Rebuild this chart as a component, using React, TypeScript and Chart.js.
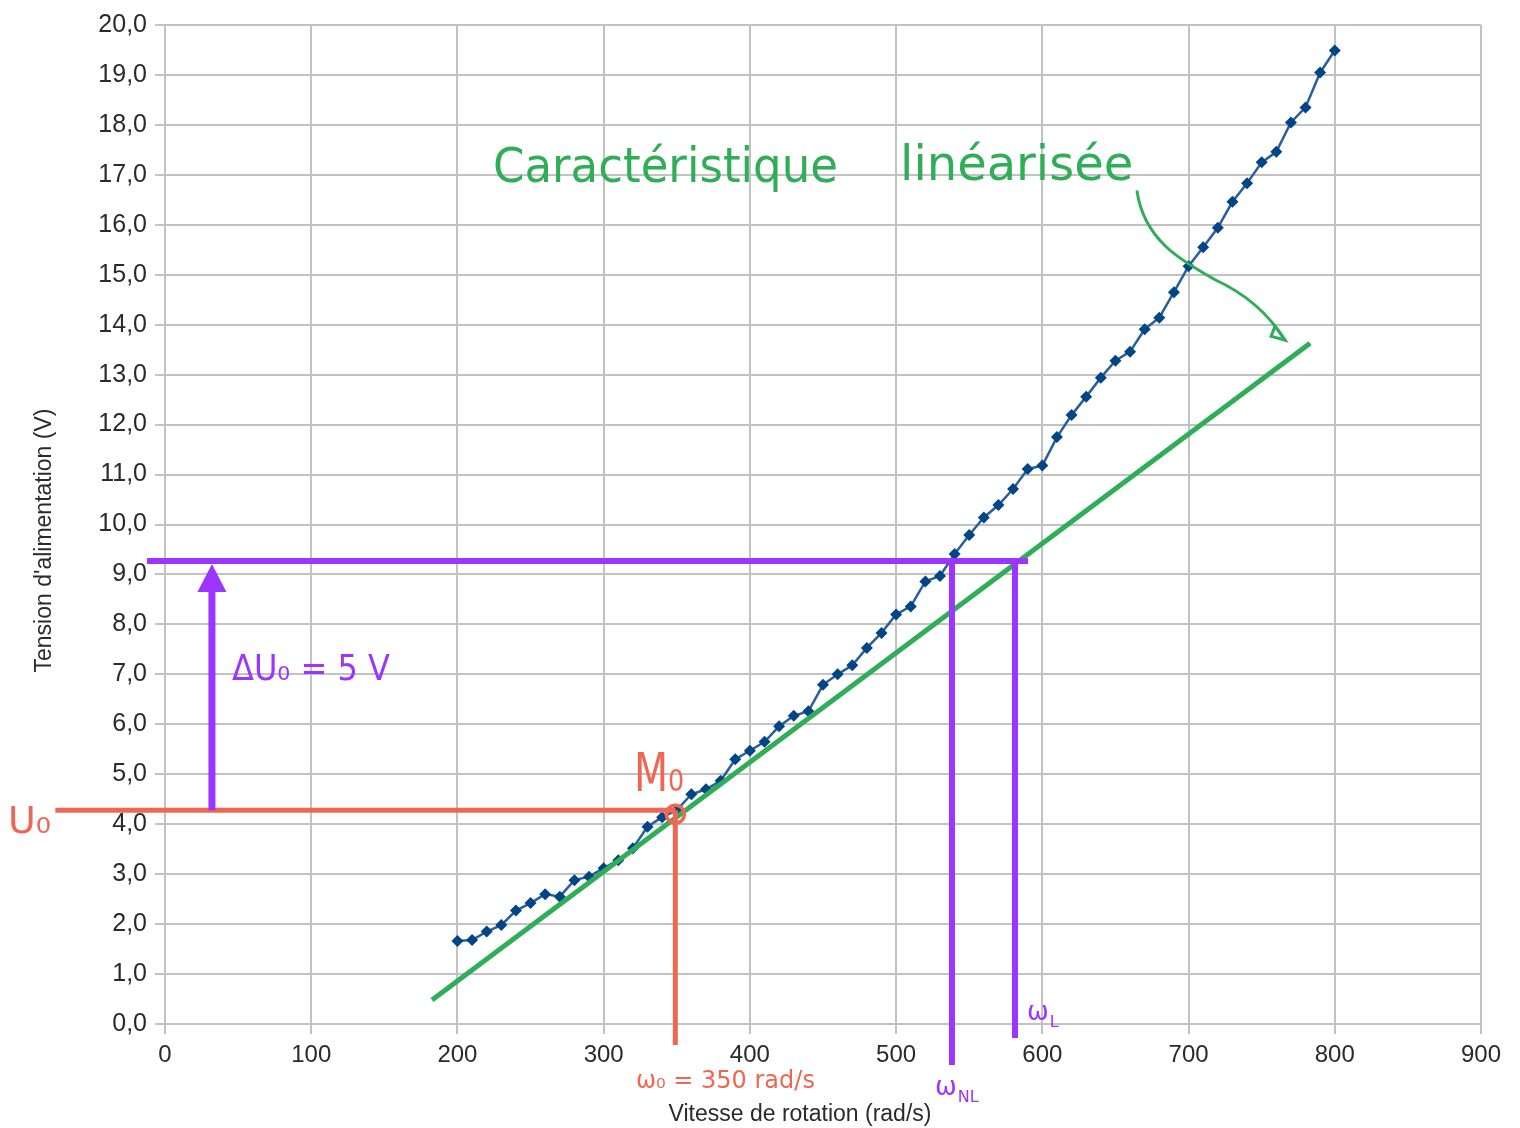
import React, { useEffect, useRef } from 'react';
import { Chart, registerables } from 'chart.js';

Chart.register(...registerables);

// ---- Data ----
const speeds = [
  200, 210, 220, 230, 240, 250, 260, 270, 280, 290,
  300, 310, 320, 330, 340, 350, 360, 370, 380, 390,
  400, 410, 420, 430, 440, 450, 460, 470, 480, 490,
  500, 510, 520, 530, 540, 550, 560, 570, 580, 590,
  600, 610, 620, 630, 640, 650, 660, 670, 680, 690,
  700, 710, 720, 730, 740, 750, 760, 770, 780, 790, 800,
];
const voltages = [
  1.66, 1.68, 1.85, 1.98, 2.27, 2.42, 2.60, 2.55, 2.88, 2.95,
  3.12, 3.28, 3.52, 3.95, 4.14, 4.28, 4.60, 4.70, 4.87, 5.30,
  5.47, 5.65, 5.96, 6.17, 6.26, 6.79, 7.00, 7.18, 7.53, 7.83,
  8.20, 8.36, 8.86, 8.97, 9.41, 9.79, 10.14, 10.39, 10.71, 11.11,
  11.18, 11.75, 12.19, 12.56, 12.94, 13.28, 13.46, 13.91, 14.14, 14.65,
  15.17, 15.55, 15.94, 16.46, 16.83, 17.25, 17.46, 18.05, 18.35, 19.05, 19.49,
];
const xTickLabels = ['0', '100', '200', '300', '400', '500', '600', '700', '800', '900'];
const yTickLabels = [
  '0,0', '1,0', '2,0', '3,0', '4,0', '5,0', '6,0', '7,0', '8,0', '9,0', '10,0',
  '11,0', '12,0', '13,0', '14,0', '15,0', '16,0', '17,0', '18,0', '19,0', '20,0',
];
const xTitle = 'Vitesse de rotation (rad/s)';
const yTitle = "Tension d'alimentation (V)";

// Linearised characteristic (hand-drawn straight line)
const fitSpeeds = [182.6, 783.1];
const fitVoltages = [0.48, 13.63];

// Operating point and construction lines
const omega0 = 349;
const u0 = 4.28;
const uTarget = 9.27;
const omegaNL = 538.2;
const omegaL = 581.3;
const deltaArrowX = 32.1;
const deltaArrowTip = 9.21;
const deltaArrowBase = 8.65;

// Extents of construction lines (beyond axes)
const redHStart = -75;
const redVEnd = -0.42;
const purpleHStart = -12.3;
const purpleHEnd = 590.2;
const purpleNLEnd = -0.82;
const purpleLEnd = -0.28;

// Hand-drawn curved arrow path (data units)
const curveStart = { x: 664.8, y: 16.66 };
const curveC1 = { x: 670.2, y: 15.6 };
const curveC2 = { x: 701.0, y: 15.2 };
const curveMid = { x: 718.1, y: 14.9 };
const curveC3 = { x: 748.9, y: 14.49 };
const curveEnd = { x: 766.0, y: 13.69 };

// ---- Styles ----
const BLUE = '#004586';
const GREEN = '#2fae57';
const RED = '#ef6753';
const PURPLE = '#9b35ff';
const GRID = '#c2c2c2';
const TEXT = '#2a2a2a';
const AXIS_FONT = '"Liberation Sans", Arial, sans-serif';
const HAND_FONT = '"DejaVu Sans", sans-serif';

const notes = [
  { text: 'Caractéristique', x: 224.3, y: 16.86, size: 48, width: 345, color: GREEN },
  { text: 'linéarisée', x: 502.7, y: 16.9, size: 48, width: 245, color: GREEN },
  { text: 'ΔU₀ = 5 V', x: 45.8, y: 6.89, size: 36, width: 158, color: PURPLE },
  { text: 'U₀', x: -107.4, y: 3.82, size: 38, width: 47, color: RED },
  { text: 'M₀', x: 320.7, y: 4.66, size: 54, width: 50, color: RED },
  { text: 'ω₀ = 350 rad/s', x: 322.1, y: -1.28, size: 24, width: 186, color: RED },
  { text: 'ω', sub: 'NL', x: 526.6, y: -1.42, size: 26, color: PURPLE },
  { text: 'ω', sub: 'L', x: 589.5, y: 0.08, size: 26, color: PURPLE },
];

const annotationPlugin = {
  id: 'handAnnotations',
  afterDatasetsDraw(chart: any) {
    const { ctx, scales, chartArea } = chart;
    const px = (v: number) => scales.x.getPixelForValue(v);
    const py = (v: number) => scales.y.getPixelForValue(v);
    ctx.save();

    // Axis titles
    ctx.fillStyle = TEXT;
    ctx.font = `23px ${AXIS_FONT}`;
    ctx.textAlign = 'center';
    ctx.textBaseline = 'middle';
    ctx.fillText(xTitle, (chartArea.left + chartArea.right) / 2 - 23, chartArea.bottom + 91);
    ctx.save();
    ctx.translate(chartArea.left - 120, (chartArea.top + chartArea.bottom) / 2 + 16);
    ctx.rotate(-Math.PI / 2);
    ctx.fillText(yTitle, 0, 0);
    ctx.restore();

    // Arrow head of ΔU arrow
    ctx.fillStyle = PURPLE;
    ctx.beginPath();
    ctx.moveTo(px(deltaArrowX), py(deltaArrowTip));
    ctx.lineTo(px(deltaArrowX) - 14.5, py(deltaArrowBase));
    ctx.lineTo(px(deltaArrowX) + 14.5, py(deltaArrowBase));
    ctx.closePath();
    ctx.fill();

    // Circle at operating point
    ctx.strokeStyle = RED;
    ctx.lineWidth = 3.5;
    ctx.beginPath();
    ctx.arc(px(omega0), py(u0 - 0.08), 9, 0, Math.PI * 2);
    ctx.stroke();

    // Green curved arrow
    ctx.strokeStyle = GREEN;
    ctx.lineWidth = 3;
    ctx.lineCap = 'round';
    ctx.beginPath();
    ctx.moveTo(px(curveStart.x), py(curveStart.y));
    ctx.bezierCurveTo(px(curveC1.x), py(curveC1.y), px(curveC2.x), py(curveC2.y), px(curveMid.x), py(curveMid.y));
    ctx.quadraticCurveTo(px(curveC3.x), py(curveC3.y), px(curveEnd.x), py(curveEnd.y));
    ctx.stroke();
    const ex = px(curveEnd.x);
    const ey = py(curveEnd.y);
    ctx.beginPath();
    ctx.moveTo(ex - 10, ey - 14);
    ctx.lineTo(ex, ey);
    ctx.lineTo(ex - 14, ey - 4);
    ctx.closePath();
    ctx.stroke();

    // Hand-written notes
    ctx.textAlign = 'left';
    ctx.textBaseline = 'alphabetic';
    for (const n of notes) {
      ctx.fillStyle = n.color;
      ctx.font = `${n.size}px ${HAND_FONT}`;
      const x0 = px(n.x);
      const y0 = py(n.y);
      if (n.width) ctx.fillText(n.text, x0, y0, n.width);
      else ctx.fillText(n.text, x0, y0);
      if (n.sub) {
        const w = ctx.measureText(n.text).width;
        ctx.font = `${Math.round(n.size * 0.6)}px ${HAND_FONT}`;
        ctx.fillText(n.sub, x0 + w + 1, y0 + 7);
      }
    }
    ctx.restore();
  },
};

function lineDataset(xs: number[], ys: number[], color: string, width: number, order: number) {
  return {
    data: xs.map((x, i) => ({ x, y: ys[i] })),
    showLine: true,
    borderColor: color,
    backgroundColor: color,
    borderWidth: width,
    pointRadius: 0,
    pointHoverRadius: 0,
    clip: false as const,
    order,
  };
}

export default function App() {
  const canvasRef = useRef<HTMLCanvasElement | null>(null);

  useEffect(() => {
    if (!canvasRef.current) return;
    const chart = new Chart(canvasRef.current, {
      type: 'scatter',
      data: {
        datasets: [
          lineDataset([purpleHStart, purpleHEnd], [uTarget, uTarget], PURPLE, 6, 0),
          lineDataset([omegaNL, omegaNL], [uTarget, purpleNLEnd], PURPLE, 6, 0),
          lineDataset([omegaL, omegaL], [uTarget, purpleLEnd], PURPLE, 6, 0),
          lineDataset([deltaArrowX, deltaArrowX], [u0, deltaArrowBase + 0.05], PURPLE, 7, 0),
          lineDataset([redHStart, omega0], [u0, u0], RED, 5, 1),
          lineDataset([omega0, omega0], [u0, redVEnd], RED, 5, 1),
          lineDataset(fitSpeeds, fitVoltages, GREEN, 5, 2),
          {
            data: speeds.map((s, i) => ({ x: s, y: voltages[i] })),
            showLine: true,
            borderColor: '#2a5f99',
            backgroundColor: BLUE,
            borderWidth: 2.5,
            pointStyle: 'rectRot',
            pointRadius: 6,
            pointHoverRadius: 6,
            pointBorderWidth: 0,
            order: 3,
          },
        ],
      },
      options: {
        animation: false,
        responsive: true,
        maintainAspectRatio: false,
        events: [],
        layout: { padding: { left: 0, right: 39, top: 25, bottom: 0 } },
        plugins: {
          legend: { display: false },
          tooltip: { enabled: false },
        },
        scales: {
          x: {
            type: 'linear',
            min: 0,
            max: 900,
            ticks: {
              stepSize: 100,
              autoSkip: false,
              maxRotation: 0,
              padding: 7,
              color: TEXT,
              font: { family: AXIS_FONT, size: 24 },
              callback: (_v: any, i: number) => xTickLabels[i],
            },
            grid: { color: GRID, lineWidth: 2, tickLength: 10 },
            border: { color: GRID, width: 2 },
            title: { display: false },
            afterFit: (s: any) => {
              s.height = 104;
            },
          },
          y: {
            type: 'linear',
            min: 0,
            max: 20,
            ticks: {
              stepSize: 1,
              autoSkip: false,
              padding: 8,
              color: TEXT,
              font: { family: AXIS_FONT, size: 25 },
              callback: (_v: any, i: number) => yTickLabels[i],
            },
            grid: { color: GRID, lineWidth: 2, tickLength: 10 },
            border: { color: GRID, width: 2 },
            title: { display: false },
            afterFit: (s: any) => {
              s.width = 165;
            },
          },
        },
      },
      plugins: [annotationPlugin],
    } as any);
    return () => chart.destroy();
  }, []);

  return (
    <div style={{ position: 'absolute', left: 0, top: 0, width: '1520px', height: '1128px', background: '#ffffff' }}>
      <canvas ref={canvasRef} />
    </div>
  );
}
